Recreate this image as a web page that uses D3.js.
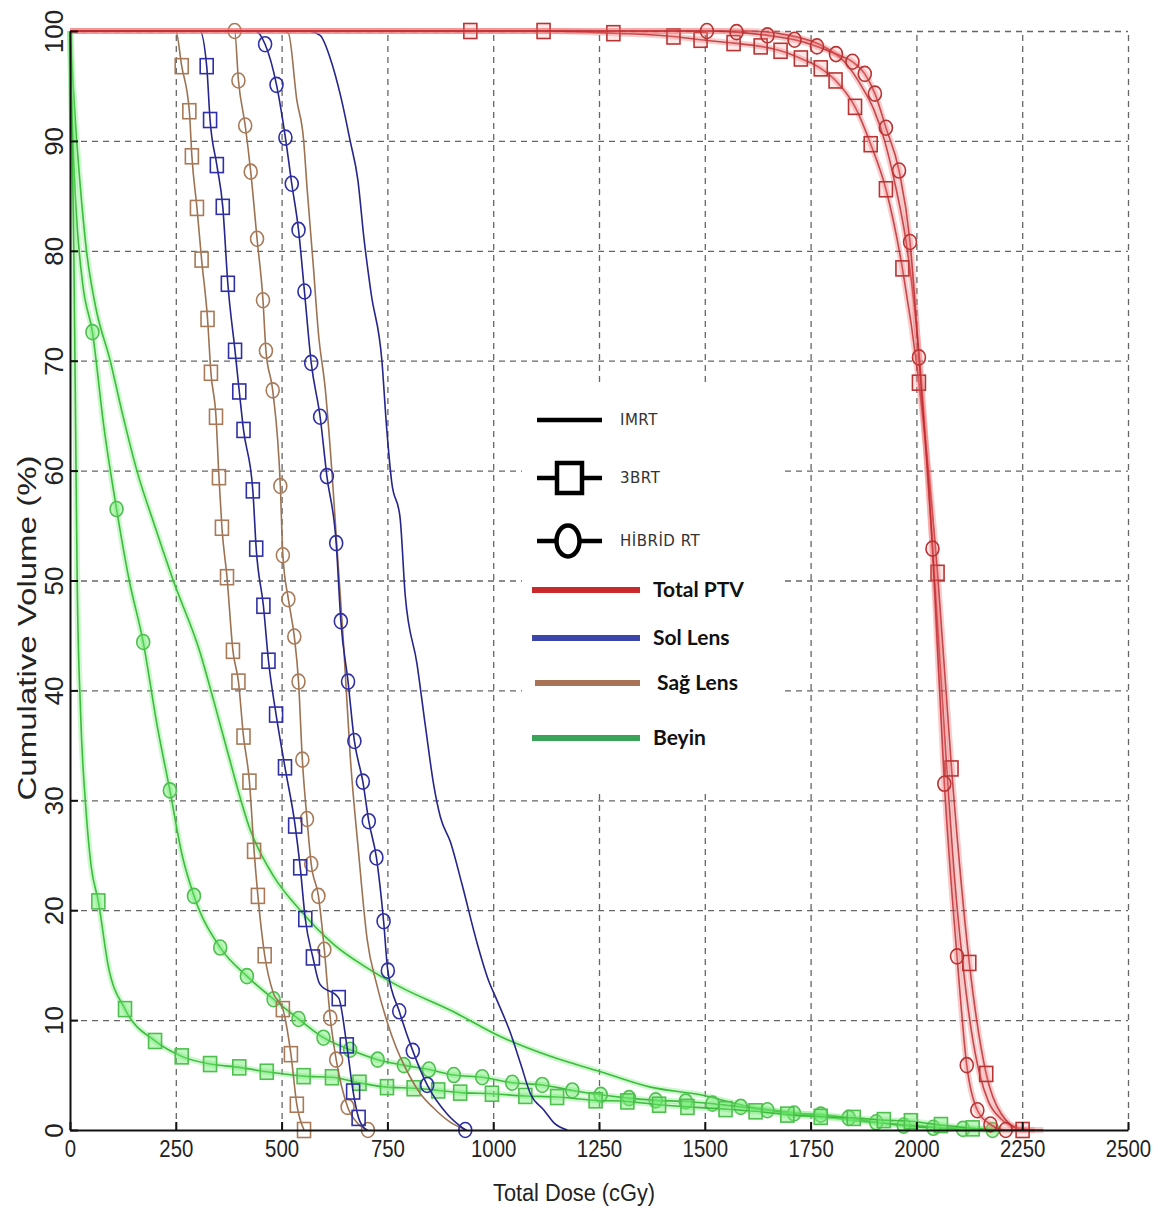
<!DOCTYPE html>
<html>
<head>
<meta charset="utf-8">
<script src="https://cdn.jsdelivr.net/npm/d3@7"></script>
<style>
body { margin: 0; background: #fff; }
.grid line { stroke: #666; stroke-dasharray: 6,5; stroke-width: 1.3; }
.grid path { display: none; }
.axis path, .axis line { stroke: #111; stroke-width: 2; }
.axis text { font-family: "Liberation Sans", Arial, sans-serif; fill: #222; }
</style>
</head>
<body>
<script>
// dose (cGy), cumulative volume (%), marker flag
var doseTicks = [0, 250, 500, 750, 1000, 1250, 1500, 1750, 2000, 2250, 2500];
var volumeTicks = [0, 10, 20, 30, 40, 50, 60, 70, 80, 90, 100];

// Total PTV
var ptvImrt = [[0,100],[1600,100],[1700,99.6],[1780,98.6],[1830,97.2],[1870,95],[1900,92.8],[1925,90],[1950,86],[1975,81],[1995,75],[2010,69],[2030,58],[2050,46],[2070,34],[2090,23],[2110,15],[2130,9],[2150,5],[2170,2.6],[2200,1],[2240,0.2],[2280,0]];
var ptv3d = [[0,100,0],[946,100,1],[1119,100,1],[1284,99.8,1],[1426,99.5,1],[1490,99.2,1],[1568,98.9,1],[1632,98.6,1],[1679,98.2,1],[1727,97.5,1],[1774,96.6,1],[1809,95.5,1],[1855,93.1,1],[1892,89.7,1],[1928,85.6,1],[1967,78.4,1],[2006,68,1],[2050,50.7,1],[2083,32.9,1],[2125,15.2,1],[2165,5.1,1],[2200,1.5,0],[2251,0,1],[2300,0,0]];
var ptvHyb = [[0,100,0],[1505,100,1],[1575,99.9,1],[1648,99.6,1],[1712,99.2,1],[1765,98.6,1],[1810,97.9,1],[1849,97.2,1],[1878,96.1,1],[1902,94.3,1],[1928,91.2,1],[1959,87.3,1],[1985,80.8,1],[2006,70.3,1],[2038,52.9,1],[2066,31.5,1],[2096,15.8,1],[2119,5.9,1],[2144,1.8,1],[2175,0.5,1],[2211,0,1],[2260,0,0]];

// Sol Lens
var solImrt = [[0,100],[560,100],[591,99.6],[615,97.5],[640,94],[662,90],[680,86.5],[695,81],[712,76],[737,70],[748,64],[760,59],[780,55.7],[792,48.7],[820,42.4],[840,36.7],[859,31.5],[875,28.5],[899,26.2],[926,22.4],[962,17],[989,13.6],[1009,11.8],[1041,8.8],[1065,6],[1088,3.3],[1120,1.8],[1145,0.6],[1175,0]];
var sol3d = [[0,100,0],[307,100,0],[323,96.8,1],[331,91.9,1],[347,87.8,1],[361,84,1],[373,77,1],[390,70.9,1],[400,67.2,1],[410,63.7,1],[432,58.2,1],[440,52.9,1],[457,47.7,1],[469,42.7,1],[487,37.8,1],[508,33,1],[532,27.7,1],[544,23.9,1],[556,19.2,1],[574,15.7,1],[590,13.3,0],[635,12,1],[654,7.7,1],[669,3.5,1],[682,1.1,1],[700,0,0]];
var solHyb = [[0,100,0],[437,100,0],[461,98.8,1],[488,95.1,1],[509,90.3,1],[524,86.1,1],[540,81.9,1],[554,76.3,1],[570,69.8,1],[591,64.9,1],[607,59.5,1],[629,53.4,1],[640,46.3,1],[657,40.8,1],[672,35.4,1],[692,31.7,1],[706,28.1,1],[724,24.8,1],[741,19,1],[751,14.5,1],[778,10.8,1],[810,7.2,1],[844,4.1,1],[890,1.5,0],[934,0,1]];

// Sag Lens
var sagImrt = [[0,100],[500,100],[516,99.8],[536,93.7],[552,90.1],[560,85.8],[575,78.6],[587,72.5],[603,67.5],[623,57.6],[631,52.9],[646,44.5],[662,34.1],[682,25.2],[702,17.4],[725,13.2],[761,8.5],[804,4.8],[828,3.3],[859,2],[899,0.7],[938,0]];
var sag3d = [[0,100,0],[250,100,0],[264,96.8,1],[282,92.7,1],[288,88.6,1],[300,83.9,1],[311,79.2,1],[325,73.8,1],[333,68.9,1],[345,64.9,1],[352,59.4,1],[359,54.8,1],[371,50.3,1],[385,43.6,1],[398,40.8,1],[410,35.8,1],[424,31.7,1],[435,25.4,1],[444,21.3,1],[460,15.9,1],[480,12.5,0],[503,11,1],[522,6.9,1],[536,2.3,1],[553,0,1]];
var sagHyb = [[0,100,0],[389,100,1],[398,95.5,1],[414,91.4,1],[427,87.2,1],[442,81.1,1],[456,75.5,1],[463,70.9,1],[479,67.3,1],[497,58.6,1],[503,52.3,1],[516,48.3,1],[530,44.9,1],[540,40.8,1],[549,33.7,1],[560,28.3,1],[570,24.2,1],[587,21.3,1],[601,16.4,1],[615,10.2,1],[629,6.4,1],[656,2.1,1],[680,0.6,0],[704,0,1]];

// Beyin
var beyImrt = [[0,100],[6,96],[14,91],[24,86],[39,80],[60,75],[95,70],[125,65],[158,60],[200,55],[244,50],[307,43.5],[340,39],[371,34.6],[426,27.3],[481,23.1],[544,20],[623,16.9],[700,14.8],[781,13],[899,10.9],[1017,8.5],[1135,6.7],[1254,5.3],[1372,3.9],[1490,3.2],[1608,2.1],[1727,1.5],[1845,0.9],[2000,0.4],[2100,0.15],[2200,0]];
var beyHyb = [[0,100,0],[5,92,0],[14,84,0],[30,77,0],[53,72.6,1],[80,64,0],[110,56.5,1],[140,50,0],[173,44.4,1],[205,37,0],[236,30.9,1],[265,25,0],[293,21.3,1],[355,16.6,1],[418,14,1],[481,11.9,1],[540,10.1,1],[599,8.4,1],[662,7.3,1],[727,6.4,1],[789,5.9,1],[848,5.5,1],[907,5,1],[974,4.8,1],[1045,4.3,1],[1116,4.1,1],[1187,3.6,1],[1254,3.2,1],[1321,2.9,1],[1384,2.7,1],[1455,2.6,1],[1518,2.4,1],[1585,2.1,1],[1648,1.8,1],[1711,1.5,1],[1774,1.4,1],[1840,1.1,1],[1905,0.7,1],[1970,0.4,1],[2040,0.2,1],[2110,0.1,1],[2180,0,1]];
var bey3d = [[0,100,0],[5,90,0],[9,80,0],[13,65,0],[17,50,0],[25,38,0],[38,29,0],[50,24,0],[67,20.8,1],[90,15,0],[130,11,1],[201,8.1,1],[264,6.7,1],[331,6,1],[400,5.7,1],[465,5.3,1],[552,4.9,1],[619,4.8,1],[684,4.3,1],[749,3.9,1],[812,3.8,1],[870,3.6,1],[922,3.4,1],[997,3.3,1],[1076,3.1,1],[1151,3,1],[1242,2.7,1],[1317,2.6,1],[1392,2.3,1],[1459,2.1,1],[1549,1.9,1],[1620,1.7,1],[1695,1.4,1],[1774,1.2,1],[1852,1.1,1],[1923,0.9,1],[1987,0.8,1],[2058,0.45,1],[2133,0.15,1],[2200,0,0]];

var methodNames = ["IMRT", "3BRT", "H\u0130BR\u0130D RT"];
var organNames = ["Total PTV", "Sol Lens", "Sa\u011f Lens", "Beyin"];

var styles = {
  green: {line: "#3dbb3d", halo: "#72ea72", marker: "#4fbf4f", fill: "rgba(110,235,110,0.45)"},
  brown: {line: "#9d7252", halo: null, marker: "#a87a58", fill: "none"},
  blue:  {line: "#25258c", halo: null, marker: "#2f2fa6", fill: "none"},
  red:   {line: "#b8262a", halo: "#f07070", marker: "#b83434", fill: "rgba(255,140,140,0.2)"}
};

var series = [
  {data: beyImrt, style: styles.green, shape: null},
  {data: beyHyb, style: styles.green, shape: "circle"},
  {data: bey3d, style: styles.green, shape: "square"},
  {data: sagImrt, style: styles.brown, shape: null},
  {data: sag3d, style: styles.brown, shape: "square"},
  {data: sagHyb, style: styles.brown, shape: "circle"},
  {data: solImrt, style: styles.blue, shape: null},
  {data: sol3d, style: styles.blue, shape: "square"},
  {data: solHyb, style: styles.blue, shape: "circle"},
  {data: ptvImrt, style: styles.red, shape: null},
  {data: ptv3d, style: styles.red, shape: "square"},
  {data: ptvHyb, style: styles.red, shape: "circle"}
];

var margin = {top: 31, right: 35, bottom: 81, left: 70},
    width = 1163 - margin.left - margin.right,
    height = 1211 - margin.top - margin.bottom;

var svgRoot = d3.select("body").append("svg")
    .attr("width", 1163)
    .attr("height", 1211);

var svg = svgRoot.append("g")
    .attr("transform", "translate(" + margin.left + "," + margin.top + ")");

var x = d3.scaleLinear().domain([0, 2500]).range([0, width]),
    y = d3.scaleLinear().domain([0, 100]).range([height, 0]);

// dashed grid
svg.append("g")
    .attr("class", "grid")
    .attr("transform", "translate(0," + height + ")")
    .call(d3.axisBottom(x).tickValues(doseTicks.slice(1)).tickSize(-height).tickFormat(""));

svg.append("g")
    .attr("class", "grid")
    .call(d3.axisLeft(y).tickValues(volumeTicks.slice(1)).tickSize(-width).tickFormat(""));

// white patch behind the legend
svg.append("rect")
    .attr("x", 452).attr("y", 354)
    .attr("width", 258).attr("height", 405)
    .attr("fill", "#fff");

var line = d3.line()
    .curve(d3.curveMonotoneX)
    .x(function(d) { return x(d[0]); })
    .y(function(d) { return y(d[1]); });

var sg = svg.selectAll(".series")
    .data(series)
    .enter().append("g")
    .attr("class", "series");

sg.filter(function(d) { return d.style.halo; })
  .append("path")
    .attr("d", function(d) { return line(d.data); })
    .attr("fill", "none")
    .attr("stroke", function(d) { return d.style.halo; })
    .attr("stroke-opacity", 0.35)
    .attr("stroke-width", 6);

sg.append("path")
    .attr("d", function(d) { return line(d.data); })
    .attr("fill", "none")
    .attr("stroke", function(d) { return d.style.line; })
    .attr("stroke-opacity", function(d) { return d.style === styles.red ? 0.8 : 1; })
    .attr("stroke-width", 1.6);

sg.each(function(s) {
  if (!s.shape) return;
  var pts = s.data.filter(function(d) { return d[2] === 1; });
  var g = d3.select(this);
  if (s.shape === "square") {
    g.selectAll("rect").data(pts).enter().append("rect")
      .attr("x", function(d) { return x(d[0]) - 6.5; })
      .attr("y", function(d) { return y(d[1]) - 7.5; })
      .attr("width", 13).attr("height", 15)
      .attr("fill", s.style.fill)
      .attr("stroke", s.style.marker)
      .attr("stroke-width", 1.6);
  } else {
    g.selectAll("ellipse").data(pts).enter().append("ellipse")
      .attr("cx", function(d) { return x(d[0]); })
      .attr("cy", function(d) { return y(d[1]); })
      .attr("rx", 6.5).attr("ry", 7.5)
      .attr("fill", s.style.fill)
      .attr("stroke", s.style.marker)
      .attr("stroke-width", 1.6);
  }
});

// axes
var xAxis = svg.append("g")
    .attr("class", "axis")
    .attr("transform", "translate(0," + height + ")")
    .call(d3.axisBottom(x).tickValues(doseTicks).tickFormat(d3.format("d"))
      .tickSizeInner(-8).tickSizeOuter(0).tickPadding(10));
xAxis.selectAll("text")
    .style("font-size", "24px")
    .attr("transform", "scale(0.85,1)");

var yAxis = svg.append("g")
    .attr("class", "axis")
    .call(d3.axisLeft(y).tickValues(volumeTicks).tickFormat(d3.format("d"))
      .tickSizeInner(-8).tickSizeOuter(0));
yAxis.selectAll("text")
    .style("font-size", "26px")
    .attr("transform", "rotate(-90)")
    .attr("x", 0).attr("y", -7).attr("dy", 0)
    .style("text-anchor", "middle");

svgRoot.append("text")
    .attr("transform", "translate(36,628) rotate(-90)")
    .attr("text-anchor", "middle")
    .attr("textLength", 345)
    .attr("lengthAdjust", "spacingAndGlyphs")
    .style("font-family", "Liberation Sans, Arial, sans-serif")
    .style("font-size", "26px")
    .style("fill", "#222")
    .text("Cumulative Volume (%)");

svgRoot.append("text")
    .attr("x", 574).attr("y", 1201)
    .attr("text-anchor", "middle")
    .attr("textLength", 162)
    .attr("lengthAdjust", "spacingAndGlyphs")
    .style("font-family", "Liberation Sans, Arial, sans-serif")
    .style("font-size", "23px")
    .style("fill", "#222")
    .text("Total Dose (cGy)");

// legend
var leg = svgRoot.append("g");
var methodY = [420, 478, 541];
methodNames.forEach(function(name, i) {
  leg.append("line")
    .attr("x1", 537).attr("x2", 602)
    .attr("y1", methodY[i]).attr("y2", methodY[i])
    .attr("stroke", "#000").attr("stroke-width", 4.5);
  if (i === 1) {
    leg.append("rect")
      .attr("x", 557).attr("y", methodY[i] - 15)
      .attr("width", 25).attr("height", 30)
      .attr("fill", "#fff").attr("stroke", "#000").attr("stroke-width", 4.5);
  }
  if (i === 2) {
    leg.append("ellipse")
      .attr("cx", 568).attr("cy", methodY[i])
      .attr("rx", 11.5).attr("ry", 15.5)
      .attr("fill", "#fff").attr("stroke", "#000").attr("stroke-width", 4.5);
  }
  leg.append("text")
    .attr("x", 620).attr("y", methodY[i])
    .attr("dy", "0.35em")
    .style("font-family", "DejaVu Sans, sans-serif")
    .style("font-size", "15px")
    .style("letter-spacing", "0.5px")
    .style("fill", "#333")
    .text(name);
});

var organY = [590, 638, 683, 738];
var organColors = ["#c9282d", "#3c46aa", "#a87357", "#3aa35a"];
organNames.forEach(function(name, i) {
  leg.append("line")
    .attr("x1", i === 2 ? 535 : 532).attr("x2", 640)
    .attr("y1", organY[i]).attr("y2", organY[i])
    .attr("stroke", organColors[i]).attr("stroke-width", 6);
  leg.append("text")
    .attr("x", i === 2 ? 657 : 653).attr("y", organY[i])
    .attr("dy", "0.33em")
    .style("font-family", "Lato, sans-serif")
    .style("font-weight", "bold")
    .style("font-size", "21px")
    .style("fill", "#111")
    .text(name);
});
</script>
</body>
</html>
